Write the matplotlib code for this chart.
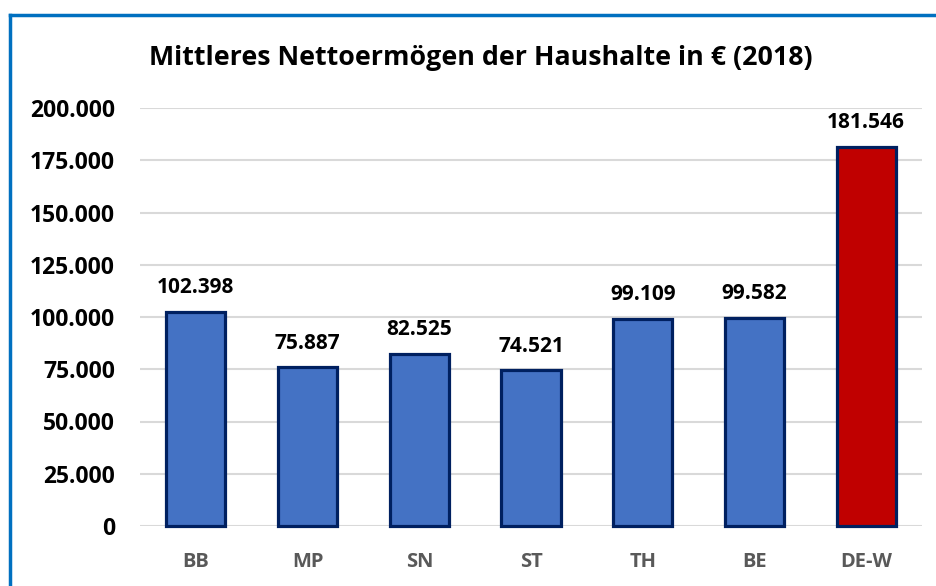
import matplotlib
matplotlib.use("Agg")
import matplotlib.pyplot as plt
from matplotlib.lines import Line2D

categories = ["BB", "MP", "SN", "ST", "TH", "BE", "DE-W"]
values = [102398, 75887, 82525, 74521, 99109, 99582, 181546]
value_labels = ["102.398", "75.887", "82.525", "74.521", "99.109", "99.582", "181.546"]
yticks = [0, 25000, 50000, 75000, 100000, 125000, 150000, 175000, 200000]
ytick_labels = ["0", "25.000", "50.000", "75.000", "100.000", "125.000", "150.000", "175.000", "200.000"]
title = "Mittleres Nettoermögen der Haushalte in € (2018)"

plt.rcParams['font.family'] = ['Open Sans', 'DejaVu Sans']

fig = plt.figure(figsize=(9.37, 5.86), dpi=100)
ax = fig.add_axes([140/937, 1-526/586, 782/937, 418/586])

colors = ["#4472C4"] * 6 + ["#C00000"]
x = list(range(len(categories)))
bars = ax.bar(x, values, width=0.53, color=colors, edgecolor="#002060", linewidth=2.3, zorder=3, clip_on=False)

for xi, v, lab in zip(x, values, value_labels):
    ax.annotate(lab, (xi, v), xytext=(0, 13.5), textcoords="offset points",
                ha="center", va="baseline", fontsize=15, fontweight="bold", color="black")

ax.set_xlim(-0.5, len(categories) - 0.5)
ax.set_ylim(0, 200000)
ax.set_yticks(yticks)
ax.set_yticklabels(ytick_labels, fontsize=16.5, fontweight="bold", color="black")
ax.set_xticks(x)
ax.set_xticklabels(categories, fontsize=14.5, fontweight="bold", color="#595959")
ax.tick_params(axis="both", length=0)
ax.tick_params(axis="y", pad=18)
ax.tick_params(axis="x", pad=19)
ax.yaxis.grid(True, color="#D9D9D9", linewidth=1.5, zorder=0)
ax.set_axisbelow(True)
for s in ax.spines.values():
    s.set_visible(False)

fig.text(481/937, 1-65/586, title, ha="center", va="baseline", fontsize=19.3, fontweight="bold", color="black")

bx, by = 10/937, 1 - 15/586
fig.lines.append(Line2D([bx, bx], [0, by], transform=fig.transFigure, color="#0070C0", linewidth=2.5))
fig.lines.append(Line2D([bx, 1.0], [by, by], transform=fig.transFigure, color="#0070C0", linewidth=2.5))

fig.savefig("out.png", dpi=100)
